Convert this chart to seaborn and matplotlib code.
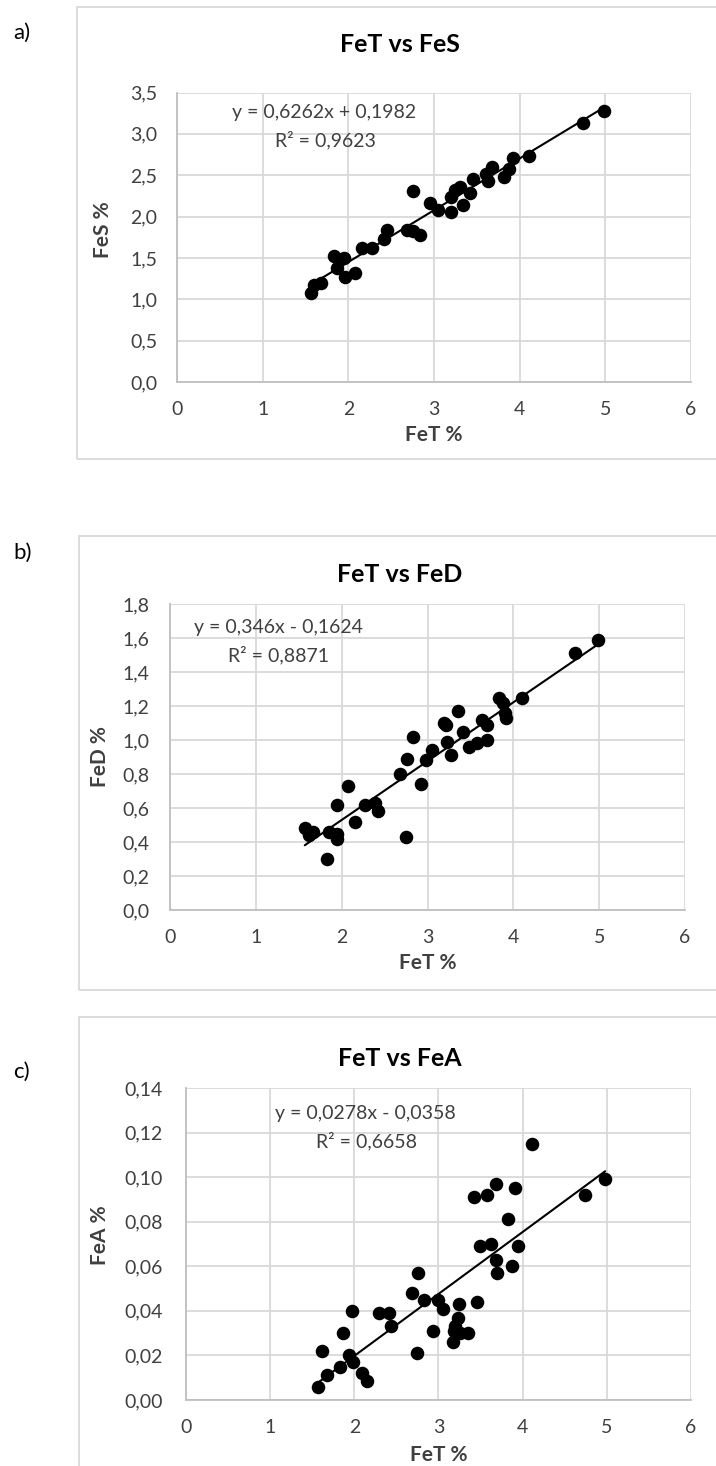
import numpy as np
import pandas as pd
import matplotlib
matplotlib.use("Agg")
import matplotlib.pyplot as plt
from matplotlib.patches import Rectangle
from matplotlib.ticker import FuncFormatter, MultipleLocator
import seaborn as sns

sns.set_theme(style="white")
plt.rcParams['font.family'] = ['Lato', 'DejaVu Sans']

# ---------------- data ----------------
panel_labels = ["a)", "b)", "c)"]
titles = ["FeT vs FeS", "FeT vs FeD", "FeT vs FeA"]
x_label = "FeT %"
y_labels = ["FeS %", "FeD %", "FeA %"]

fet_a = [4.98, 4.74, 4.11, 3.92, 3.88, 3.82, 3.68, 3.61, 3.63, 3.46, 3.42, 3.30, 3.24, 3.20,
         3.34, 3.20, 3.05, 2.95, 2.76, 2.84, 2.76, 2.68, 2.45, 2.42, 2.28, 2.16, 2.08, 1.96,
         1.95, 1.83, 1.87, 1.68, 1.60, 1.57]
fes = [3.28, 3.13, 2.73, 2.71, 2.58, 2.48, 2.60, 2.52, 2.43, 2.45, 2.28, 2.36, 2.32, 2.24,
       2.14, 2.06, 2.08, 2.17, 2.31, 1.78, 1.82, 1.84, 1.84, 1.73, 1.62, 1.62, 1.32, 1.27,
       1.50, 1.52, 1.38, 1.20, 1.17, 1.07]

fet_b = [4.99, 4.72, 4.10, 3.83, 3.88, 3.92, 3.90, 3.35, 3.19, 3.21, 2.83, 3.63, 3.69, 3.41,
         3.69, 3.48, 3.58, 3.23, 3.05, 3.27, 2.76, 2.98, 2.92, 2.75, 2.68, 2.42, 2.39, 2.27,
         2.15, 2.07, 1.95, 1.95, 1.95, 1.85, 1.83, 1.67, 1.62, 1.57]
fed = [1.59, 1.51, 1.25, 1.25, 1.22, 1.13, 1.16, 1.17, 1.10, 1.09, 1.02, 1.12, 1.09, 1.05,
       1.00, 0.96, 0.98, 0.99, 0.94, 0.91, 0.89, 0.88, 0.74, 0.43, 0.80, 0.58, 0.63, 0.62,
       0.52, 0.73, 0.62, 0.45, 0.42, 0.46, 0.30, 0.46, 0.44, 0.48]

fet_c = [4.11, 4.98, 4.74, 3.68, 3.58, 3.42, 3.91, 3.82, 3.49, 3.62, 3.94, 3.68, 3.87, 3.70,
         2.76, 2.68, 2.83, 2.99, 3.05, 3.24, 3.46, 3.23, 3.20, 3.18, 3.26, 3.35, 3.17, 2.93,
         2.75, 1.97, 2.29, 2.41, 2.44, 1.86, 1.61, 1.94, 1.98, 1.83, 1.67, 2.09, 2.15, 1.57]
fea = [0.115, 0.099, 0.092, 0.097, 0.092, 0.091, 0.095, 0.081, 0.069, 0.070, 0.069, 0.063,
       0.060, 0.057, 0.057, 0.048, 0.045, 0.045, 0.041, 0.043, 0.044, 0.037, 0.033, 0.031,
       0.030, 0.030, 0.026, 0.031, 0.021, 0.040, 0.039, 0.039, 0.033, 0.030, 0.022, 0.020,
       0.017, 0.015, 0.011, 0.012, 0.0085, 0.006]

slopes = [0.6262, 0.346, 0.0278]
intercepts = [0.1982, -0.1624, -0.0358]
eq_texts = ["y = 0,6262x + 0,1982", "y = 0,346x - 0,1624", "y = 0,0278x - 0,0358"]
r2_texts = ["R² = 0,9623", "R² = 0,8871", "R² = 0,6658"]

y_max = [3.5, 1.8, 0.14]
y_step = [0.5, 0.2, 0.02]
y_dec = [1, 1, 2]

# ---------------- layout (pixels) ----------------
W, H = 716, 1466
fig = plt.figure(figsize=(W / 100, H / 100), dpi=100)

def fx(px):
    return px / W

def fy(py):
    return 1 - py / H

# plot areas: left, right, top, bottom in pixels
areas = [(177, 691, 92.5, 382), (170, 685, 604, 910), (186, 691, 1088, 1400)]
boxes = [(77, 7, 725, 459), (79, 536, 725, 990), (79, 1017, 725, 1480)]
title_y = [45, 575, 1058]
panel_lab_y = [33, 553, 1072]
xlabel_y = [435, 963, 1455]
ylabel_pos = [(103, 230), (100, 757), (100, 1235)]
ytick_pad = [14, 15, 16.5]
eq_pos = [((1.72, 3.26), (1.73, 2.93)), ((1.265, 1.663), (1.265, 1.498)),
          ((2.13, 0.1287), (2.14, 0.1162))]

grid_c = "#d9d9d9"
axis_c = "#bfbfbf"
text_c = "#404040"

xs = [fet_a, fet_b, fet_c]
ys = [fes, fed, fea]

for i in range(3):
    l, r, t, b = areas[i]
    ax = fig.add_axes([fx(l), fy(b), fx(r) - fx(l), fy(t) - fy(b)])
    df = pd.DataFrame({"x": xs[i], "y": ys[i]})

    # chart area border
    bx0, by0, bx1, by1 = boxes[i]
    fig.add_artist(Rectangle((fx(bx0), fy(by1)), fx(bx1) - fx(bx0), fy(by0) - fy(by1),
                             transform=fig.transFigure, fill=False, edgecolor=grid_c,
                             linewidth=1.3, zorder=0))

    sns.scatterplot(data=df, x="x", y="y", ax=ax, color="black", s=95,
                    edgecolor="black", linewidth=0, zorder=3, legend=False)
    xr = np.array([df["x"].min(), df["x"].max()])
    sns.lineplot(x=xr, y=slopes[i] * xr + intercepts[i], ax=ax, color="black",
                 linewidth=1.5, zorder=4)

    ax.set_xlim(0, 6)
    ax.set_ylim(0, y_max[i])
    ax.xaxis.set_major_locator(MultipleLocator(1))
    ax.yaxis.set_major_locator(MultipleLocator(y_step[i]))
    d = y_dec[i]
    ax.yaxis.set_major_formatter(FuncFormatter(lambda v, p, d=d: f"{v:.{d}f}".replace(".", ",")))
    ax.xaxis.set_major_formatter(FuncFormatter(lambda v, p: f"{v:.0f}"))
    ax.grid(True, color=grid_c, linewidth=1.3, zorder=0)
    ax.set_axisbelow(True)
    for s in ["top", "right"]:
        ax.spines[s].set_visible(False)
    for s in ["left", "bottom"]:
        ax.spines[s].set_color(axis_c)
        ax.spines[s].set_linewidth(1.3)
    ax.tick_params(axis="x", length=0, pad=14, labelsize=14, labelcolor=text_c)
    ax.tick_params(axis="y", length=0, pad=ytick_pad[i], labelsize=14, labelcolor=text_c)
    ax.set_xlabel("")
    ax.set_ylabel("")

    (ex, ey), (rx, ry) = eq_pos[i]
    ax.text(ex, ey, eq_texts[i], ha="center", va="center", fontsize=14, color=text_c, zorder=5)
    ax.text(rx, ry, r2_texts[i], ha="center", va="center", fontsize=14, color=text_c, zorder=5)

    fig.text(fx(400), fy(title_y[i]), titles[i], ha="center", va="center",
             fontsize=18, fontweight="bold", color="black")
    fig.text(fx((l + r) / 2), fy(xlabel_y[i]), x_label, ha="center", va="center",
             fontsize=15, fontweight="bold", color=text_c)
    fig.text(fx(ylabel_pos[i][0]), fy(ylabel_pos[i][1]), y_labels[i], ha="center",
             va="center", rotation=90, fontsize=15, fontweight="bold", color=text_c)
    fig.text(fx(13), fy(panel_lab_y[i]), panel_labels[i], ha="left", va="center",
             fontsize=16, color="black")

fig.savefig("out.png", dpi=100, facecolor="white")
